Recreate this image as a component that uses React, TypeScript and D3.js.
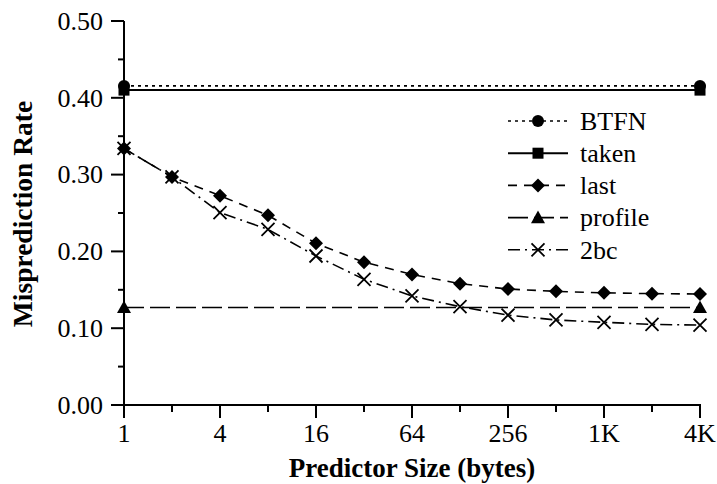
import React from "react";
import * as d3 from "d3";

const sizes = [1, 2, 4, 8, 16, 32, 64, 128, 256, 512, 1024, 2048, 4096];
const btfnVals = [0.4155, 0.4155];
const takenVals = [0.41, 0.41];
const profileVals = [0.127, 0.127];
const endSizes = [1, 4096];
const lastVals = [0.334, 0.297, 0.2725, 0.247, 0.2105, 0.186, 0.17, 0.158, 0.151, 0.148, 0.146, 0.145, 0.1445];
const twoBcVals = [0.334, 0.297, 0.2504, 0.2287, 0.194, 0.1637, 0.142, 0.128, 0.117, 0.1107, 0.1077, 0.105, 0.104];
const xTickVals = [1, 4, 16, 64, 256, 1024, 4096];
const xTickLabels = ["1", "4", "16", "64", "256", "1K", "4K"];
const xMinorVals = [2, 8, 32, 128, 512, 2048];
const yTickVals = [0, 0.1, 0.2, 0.3, 0.4, 0.5];
const yMinorVals = [0.05, 0.15, 0.25, 0.35, 0.45];
const legendNames = ["BTFN", "taken", "last", "profile", "2bc"];

const W = 717, H = 484;
const FONT = '"Liberation Serif"';

const x = d3.scaleLog().base(2).domain([1, 4096]).range([124, 700]);
const y = d3.scaleLinear().domain([0, 0.5]).range([405, 21]);

type Style = { dash: string; width: number; marker: string };
const styles: Style[] = [
  { dash: "3,4", width: 1.6, marker: "circle" },
  { dash: "", width: 2, marker: "square" },
  { dash: "9,7", width: 1.6, marker: "diamond" },
  { dash: "20,6", width: 1.6, marker: "triangle" },
  { dash: "12,5,2,5", width: 1.6, marker: "cross" },
];

function Marker({ kind, cx, cy }: { kind: string; cx: number; cy: number }) {
  if (kind === "circle") return <circle cx={cx} cy={cy} r={6} fill="#000" />;
  if (kind === "square") return <rect x={cx - 5.5} y={cy - 5.5} width={11} height={11} fill="#000" />;
  if (kind === "diamond") {
    const s = 7;
    return <path d={`M${cx},${cy - s}L${cx + s},${cy}L${cx},${cy + s}L${cx - s},${cy}Z`} fill="#000" />;
  }
  if (kind === "triangle") {
    const s = 7;
    return <path d={`M${cx},${cy - s}L${cx + s},${cy + s * 0.8}L${cx - s},${cy + s * 0.8}Z`} fill="#000" />;
  }
  const s = 6.5;
  return (
    <path d={`M${cx - s},${cy - s}L${cx + s},${cy + s}M${cx - s},${cy + s}L${cx + s},${cy - s}`} stroke="#000" strokeWidth={1.8} fill="none" />
  );
}

export default function App() {
  const line = d3.line<[number, number]>().x((d) => x(d[0])).y((d) => y(d[1]));
  const series: { xs: number[]; vs: number[]; st: Style }[] = [
    { xs: endSizes, vs: btfnVals, st: styles[0] },
    { xs: endSizes, vs: takenVals, st: styles[1] },
    { xs: sizes, vs: lastVals, st: styles[2] },
    { xs: endSizes, vs: profileVals, st: styles[3] },
    { xs: sizes, vs: twoBcVals, st: styles[4] },
  ];
  const legX0 = 508, legX1 = 568, legY0 = 121, legStep = 32.2;
  const txt = { fontFamily: FONT };
  return (
    <svg width={W} height={H} style={{ position: "absolute", left: 0, top: 0, background: "#fff" }}>
      {/* axes */}
      <line x1={x(1)} x2={x(1)} y1={y(0.5)} y2={y(0) + 1} stroke="#000" strokeWidth={2} />
      <line x1={x(1) - 1} x2={x(4096) + 1} y1={y(0)} y2={y(0)} stroke="#000" strokeWidth={2} />
      {yTickVals.map((v) => (
        <g key={"yt" + v}>
          <line x1={x(1) - 13} x2={x(1)} y1={y(v)} y2={y(v)} stroke="#000" strokeWidth={2} />
          <text x={103} y={y(v)} dy="0.34em" textAnchor="end" fontSize={26} style={txt}>{d3.format(".2f")(v)}</text>
        </g>
      ))}
      {yMinorVals.map((v) => (
        <line key={"ym" + v} x1={x(1) - 6} x2={x(1)} y1={y(v)} y2={y(v)} stroke="#000" strokeWidth={2} />
      ))}
      {xTickVals.map((v, i) => (
        <g key={"xt" + v}>
          <line x1={x(v)} x2={x(v)} y1={y(0)} y2={y(0) + 13} stroke="#000" strokeWidth={2} />
          <text x={x(v)} y={442} textAnchor="middle" fontSize={26} style={txt}>{xTickLabels[i]}</text>
        </g>
      ))}
      {xMinorVals.map((v) => (
        <line key={"xm" + v} x1={x(v)} x2={x(v)} y1={y(0)} y2={y(0) + 7} stroke="#000" strokeWidth={2} />
      ))}
      <text x={412} y={477} textAnchor="middle" fontSize={27} fontWeight="bold" style={txt}>Predictor Size (bytes)</text>
      <text transform={`translate(32,214) rotate(-90)`} textAnchor="middle" fontSize={27.5} fontWeight="bold" style={txt}>Misprediction Rate</text>

      {/* series */}
      {series.map((s, i) => {
        const pts = s.xs.map((xv, j) => [xv, s.vs[j]] as [number, number]);
        return (
          <g key={"s" + i}>
            <path d={line(pts) || ""} fill="none" stroke="#000" strokeWidth={s.st.width} strokeDasharray={s.st.dash || undefined} />
            {pts.map((p, j) => (
              <Marker key={j} kind={s.st.marker} cx={x(p[0])} cy={y(p[1])} />
            ))}
          </g>
        );
      })}

      {/* legend */}
      {legendNames.map((name, i) => {
        const ly = legY0 + i * legStep;
        const st = styles[i];
        return (
          <g key={"lg" + name}>
            <line x1={legX0} x2={legX1} y1={ly} y2={ly} stroke="#000" strokeWidth={st.width} strokeDasharray={st.dash || undefined} />
            <Marker kind={st.marker} cx={(legX0 + legX1) / 2} cy={ly} />
            <text x={580} y={ly} dy="0.34em" fontSize={26} style={txt}>{name}</text>
          </g>
        );
      })}
    </svg>
  );
}
